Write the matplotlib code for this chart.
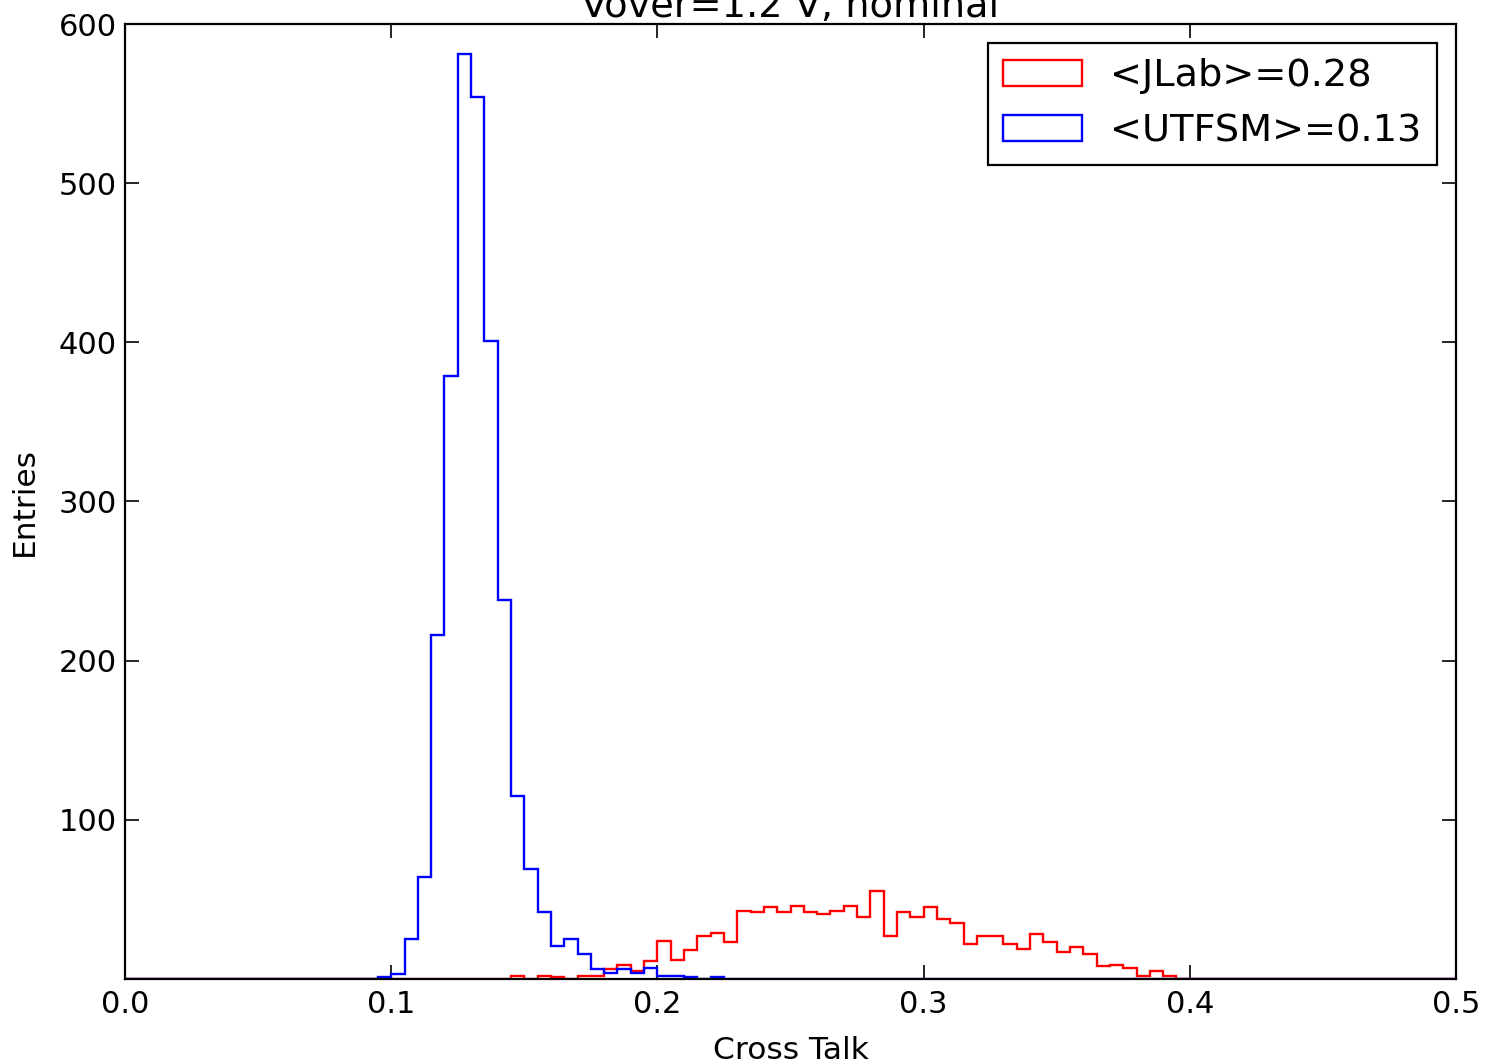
import numpy as np
import matplotlib
matplotlib.use("Agg")
import matplotlib.pyplot as plt

# bin layout: 100 bins of 0.005 between 0 and 0.5
bin_edges = np.linspace(0.0, 0.5, 101)
bin_centers = 0.5 * (bin_edges[:-1] + bin_edges[1:])

# counts (index = bin number)
utfsm_bins = [19, 20, 21, 22, 23, 24, 25, 26, 27, 28, 29, 30, 31, 32, 33, 34,
              35, 36, 37, 38, 39, 40, 41, 42, 44]
utfsm_counts = [1, 3, 25, 64, 216, 379, 581, 554, 401, 238, 115, 69, 42, 21, 25,
                16, 6, 4, 6, 4, 7, 2, 2, 1, 1]

jlab_bins = [29, 31, 32, 34, 35, 36, 37, 38, 39, 40, 41, 42, 43, 44, 45, 46, 47,
             48, 49, 50, 51, 52, 53, 54, 55, 56, 57, 58, 59, 60, 61, 62, 63, 64,
             65, 66, 67, 68, 69, 70, 71, 72, 73, 74, 75, 76, 77, 78]
jlab_counts = [2, 2, 1, 2, 2, 6, 9, 5, 11, 24, 12, 18, 27, 29, 23, 43, 42, 45,
               42, 46, 42, 41, 43, 46, 39, 55, 27, 42, 39, 45, 38, 35, 22, 27,
               27, 22, 19, 28, 23, 17, 20, 16, 8, 9, 7, 2, 5, 2]

labels = ["<JLab>=0.28", "<UTFSM>=0.13"]
title = "Vover=1.2 V, nominal"

jlab_w = np.zeros(100)
jlab_w[jlab_bins] = jlab_counts
utfsm_w = np.zeros(100)
utfsm_w[utfsm_bins] = utfsm_counts

fig = plt.figure(figsize=(14.87, 10.64), dpi=100)
ax = fig.add_axes([125 / 1487, 85 / 1064, (1456 - 125) / 1487, (979 - 24) / 1064])

ax.hist(bin_centers, bins=bin_edges, weights=jlab_w, histtype="step",
        color="red", linewidth=1.7, label=labels[0])
ax.hist(bin_centers, bins=bin_edges, weights=utfsm_w, histtype="step",
        color="blue", linewidth=1.7, label=labels[1])

ax.set_xlim(0, 0.5)
ax.set_ylim(0, 600)
ax.set_xticks([0.0, 0.1, 0.2, 0.3, 0.4, 0.5])
ax.set_xticklabels(["0.0", "0.1", "0.2", "0.3", "0.4", "0.5"])
ax.set_yticks([100, 200, 300, 400, 500, 600])

ax.tick_params(direction="in", length=10, width=1.2, top=True, right=True,
               labelsize=22)
ax.tick_params(axis="x", pad=8)
ax.tick_params(axis="y", pad=6)
for sp in ax.spines.values():
    sp.set_linewidth(1.6)

ax.set_xlabel("Cross Talk", fontsize=22.5, labelpad=12)
ax.set_ylabel("Entries", fontsize=22.5, labelpad=14)
ax.set_title(title, fontsize=27.5, pad=5)

leg = ax.legend(loc="upper right", fontsize=27.5, fancybox=False,
                framealpha=1, edgecolor="black", borderaxespad=0.5,
                handlelength=2.05, handletextpad=0.75)
leg.get_frame().set_linewidth(1.6)

fig.savefig("out.png", dpi=100)
